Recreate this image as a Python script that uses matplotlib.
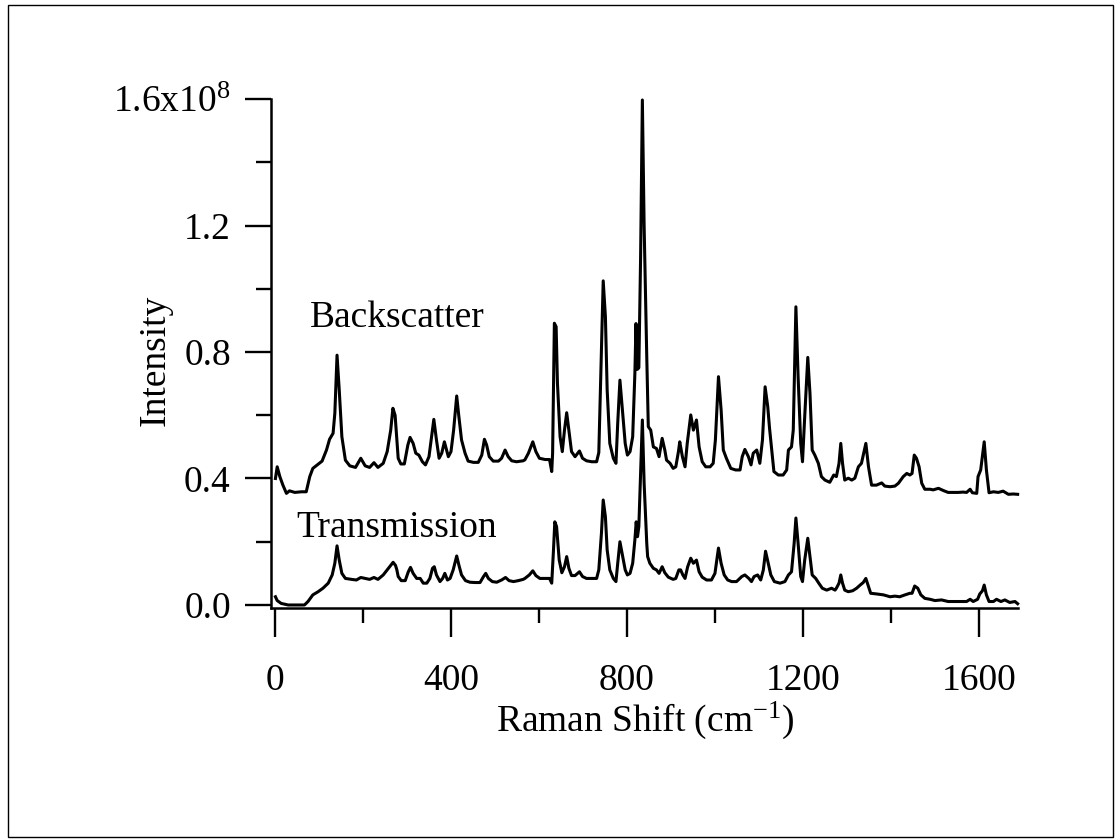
import matplotlib
matplotlib.use('Agg')
import matplotlib.pyplot as plt
from matplotlib.patches import Rectangle
from matplotlib.ticker import MultipleLocator

plt.rcParams['font.family'] = 'Liberation Serif'
plt.rcParams['mathtext.fontset'] = 'custom'
plt.rcParams['mathtext.rm'] = 'Liberation Serif'
plt.rcParams['mathtext.it'] = 'Liberation Serif:italic'

# Raman shift (cm^-1) and intensity (units of 1e8 counts)
back_shift = [1, 5, 11, 18, 26, 33, 45, 60, 71, 79, 86, 98, 107, 117, 124, 132, 136, 141, 146, 152,
              160, 170, 183, 195, 205, 215, 225, 234, 246, 255, 263, 268, 273, 277, 280, 286, 294, 302,
              307, 314, 320, 327, 335, 342, 350, 356, 361, 367, 373, 379, 385, 390, 394, 400, 406, 413,
              418, 424, 432, 439, 451, 462, 470, 476, 481, 487, 496, 508, 515, 523, 530, 538, 549, 564,
              568, 576, 586, 593, 601, 614, 624, 629, 631, 635, 639, 642, 648, 653, 658, 663, 668, 674,
              682, 692, 699, 708, 720, 731, 736, 742, 746, 751, 755, 761, 769, 775, 779, 784, 789, 796,
              801, 807, 813, 818, 820.5, 823.5, 827, 831, 835, 839, 845, 848.5, 854, 860, 867, 873, 880,
              886, 890, 898, 905, 911, 917, 920, 926, 932, 937, 945, 951, 958, 964, 971, 979, 989, 996,
              1001, 1008, 1014, 1019, 1026, 1036, 1047, 1057, 1062, 1068, 1076, 1082, 1087, 1095, 1102,
              1108, 1114, 1120, 1124, 1129, 1134, 1144, 1155, 1163, 1167, 1174, 1178, 1184, 1189, 1195,
              1199, 1204, 1211, 1216, 1221, 1227, 1235, 1242, 1250, 1261, 1270, 1276, 1282, 1286, 1290,
              1295, 1303, 1311, 1318, 1326, 1333, 1343, 1349, 1356, 1367, 1379, 1386, 1398, 1409, 1417,
              1428, 1436, 1443, 1448, 1453, 1458, 1464, 1470, 1477, 1489, 1496, 1508, 1519, 1530, 1542,
              1553, 1564, 1572, 1580, 1585, 1595, 1598, 1604, 1612, 1617, 1623, 1633, 1644, 1655, 1667,
              1678, 1688]
back_int = [0.400, 0.437, 0.406, 0.379, 0.353, 0.361, 0.356, 0.358, 0.358, 0.406, 0.432, 0.445, 0.455,
            0.490, 0.524, 0.543, 0.606, 0.790, 0.680, 0.532, 0.458, 0.440, 0.435, 0.464, 0.440, 0.435,
            0.450, 0.435, 0.448, 0.485, 0.553, 0.622, 0.600, 0.522, 0.464, 0.446, 0.446, 0.506, 0.530,
            0.511, 0.480, 0.474, 0.453, 0.443, 0.469, 0.532, 0.587, 0.522, 0.464, 0.480, 0.516, 0.490,
            0.469, 0.485, 0.553, 0.661, 0.595, 0.522, 0.480, 0.455, 0.451, 0.451, 0.474, 0.524, 0.506,
            0.469, 0.455, 0.455, 0.464, 0.490, 0.469, 0.456, 0.453, 0.456, 0.459, 0.480, 0.516, 0.485,
            0.464, 0.460, 0.460, 0.422, 0.480, 0.891, 0.880, 0.701, 0.532, 0.485, 0.553, 0.608, 0.553,
            0.485, 0.469, 0.487, 0.464, 0.456, 0.453, 0.453, 0.482, 0.806, 1.025, 0.912, 0.680, 0.511,
            0.464, 0.448, 0.575, 0.711, 0.627, 0.511, 0.474, 0.485, 0.532, 0.733, 0.890, 0.745, 0.750,
            1.100, 1.597, 1.200, 0.785, 0.564, 0.553, 0.500, 0.495, 0.469, 0.527, 0.490, 0.458, 0.448,
            0.432, 0.437, 0.485, 0.516, 0.469, 0.437, 0.511, 0.601, 0.553, 0.585, 0.500, 0.453, 0.437,
            0.437, 0.448, 0.522, 0.722, 0.617, 0.490, 0.464, 0.432, 0.427, 0.427, 0.469, 0.492, 0.469,
            0.443, 0.480, 0.490, 0.448, 0.522, 0.690, 0.627, 0.560, 0.490, 0.422, 0.411, 0.411, 0.427,
            0.490, 0.500, 0.553, 0.943, 0.722, 0.511, 0.453, 0.595, 0.783, 0.669, 0.490, 0.474, 0.448,
            0.406, 0.395, 0.388, 0.411, 0.406, 0.448, 0.511, 0.448, 0.395, 0.401, 0.395, 0.401, 0.437,
            0.448, 0.511, 0.437, 0.379, 0.379, 0.386, 0.376, 0.374, 0.376, 0.385, 0.406, 0.416, 0.411,
            0.416, 0.474, 0.464, 0.437, 0.385, 0.366, 0.366, 0.364, 0.369, 0.362, 0.356, 0.356, 0.356,
            0.357, 0.356, 0.366, 0.355, 0.353, 0.406, 0.427, 0.516, 0.427, 0.355, 0.358, 0.356, 0.360,
            0.350, 0.351, 0.350]

trans_shift = [1, 5, 14, 30, 45, 67, 75, 86, 98, 109, 121, 130, 136, 141, 146, 152, 160, 174, 185, 195,
               205, 215, 225, 234, 246, 255, 263, 268.5, 274, 277, 280, 287, 296, 303, 308, 314, 322, 330,
               337, 345, 352, 358, 362, 367, 375, 381, 386, 392, 398, 405, 413, 418, 424, 433, 443, 455,
               466, 474, 479, 485, 494, 504, 515, 524, 532, 542, 553, 564, 568, 578, 586, 593, 602, 614,
               624, 629, 633, 636, 640, 646, 652, 658, 663, 668, 674, 682, 692, 699, 708, 720, 731, 736,
               742, 746, 751, 755, 761, 769, 775, 779, 784, 789, 796, 801, 807, 813, 818, 821, 824, 827,
               831, 835, 839, 845, 847, 852, 860, 867, 873, 880, 886, 894, 905, 911, 918, 922, 927, 932,
               938, 945, 951, 958, 964, 971, 981, 992, 1000, 1008, 1014, 1021, 1029, 1038, 1049, 1061,
               1068, 1077, 1083, 1089, 1097, 1104, 1110, 1115, 1121, 1127, 1135, 1148, 1159, 1167, 1174,
               1180, 1184, 1189, 1195, 1199, 1204, 1211, 1216, 1221, 1229, 1236, 1244, 1254, 1265, 1273,
               1276, 1282, 1286, 1290, 1295, 1303, 1313, 1322, 1330, 1337, 1343, 1348, 1354, 1367, 1383,
               1398, 1409, 1420, 1432, 1443, 1448, 1454, 1461, 1468, 1477, 1489, 1500, 1515, 1530, 1545,
               1561, 1572, 1580, 1587, 1597, 1602, 1608, 1612, 1617, 1623, 1633, 1640, 1650, 1659, 1670,
               1682, 1688]
trans_int = [0.026, 0.014, 0.005, 0.000, 0.000, 0.000, 0.011, 0.032, 0.042, 0.053, 0.069, 0.095, 0.132,
             0.187, 0.142, 0.100, 0.084, 0.081, 0.079, 0.087, 0.084, 0.081, 0.087, 0.081, 0.095, 0.111,
             0.125, 0.135, 0.125, 0.111, 0.090, 0.077, 0.077, 0.105, 0.119, 0.100, 0.084, 0.084, 0.069,
             0.069, 0.084, 0.116, 0.121, 0.095, 0.074, 0.084, 0.100, 0.079, 0.084, 0.111, 0.155, 0.126,
             0.095, 0.077, 0.072, 0.071, 0.071, 0.090, 0.100, 0.084, 0.074, 0.072, 0.079, 0.087, 0.077,
             0.074, 0.077, 0.081, 0.084, 0.095, 0.108, 0.093, 0.084, 0.084, 0.084, 0.069, 0.174, 0.263,
             0.248, 0.142, 0.102, 0.121, 0.153, 0.116, 0.093, 0.093, 0.105, 0.090, 0.084, 0.084, 0.084,
             0.111, 0.227, 0.332, 0.279, 0.174, 0.111, 0.084, 0.074, 0.132, 0.200, 0.163, 0.111, 0.095,
             0.100, 0.132, 0.206, 0.263, 0.216, 0.248, 0.420, 0.585, 0.385, 0.195, 0.153, 0.132, 0.116,
             0.111, 0.100, 0.121, 0.102, 0.088, 0.081, 0.084, 0.111, 0.111, 0.095, 0.084, 0.121, 0.148,
             0.132, 0.142, 0.105, 0.088, 0.079, 0.079, 0.100, 0.180, 0.132, 0.095, 0.079, 0.074, 0.074,
             0.090, 0.095, 0.084, 0.074, 0.090, 0.095, 0.079, 0.111, 0.170, 0.132, 0.095, 0.074, 0.069,
             0.074, 0.095, 0.105, 0.195, 0.275, 0.195, 0.090, 0.074, 0.142, 0.211, 0.153, 0.095, 0.084,
             0.069, 0.053, 0.047, 0.053, 0.047, 0.053, 0.069, 0.095, 0.069, 0.047, 0.042, 0.045, 0.053,
             0.063, 0.071, 0.084, 0.063, 0.037, 0.035, 0.032, 0.026, 0.028, 0.026, 0.032, 0.037, 0.037,
             0.060, 0.053, 0.032, 0.021, 0.018, 0.014, 0.016, 0.011, 0.011, 0.011, 0.011, 0.018, 0.011,
             0.018, 0.035, 0.045, 0.063, 0.032, 0.011, 0.011, 0.018, 0.011, 0.016, 0.008, 0.011, 0.004]

ytick_vals = [0.0, 0.4, 0.8, 1.2, 1.6]
ytick_text = ['0.0', '0.4', '0.8', '1.2', '1.6x10$^{8}$']
xtick_vals = [0, 400, 800, 1200, 1600]

fig = plt.figure(figsize=(11.2, 8.4), dpi=100)
ax = fig.add_axes([0.242, 0.2762, 0.667, 0.6059])

ax.plot(back_shift, back_int, color='black', lw=2.2, clip_on=False)
ax.plot(trans_shift, trans_int, color='black', lw=2.2, clip_on=False)

ax.set_xlim(-9, 1689)
ax.set_ylim(-0.0095, 1.6)

for s in ['top', 'right']:
    ax.spines[s].set_visible(False)
for s in ['left', 'bottom']:
    ax.spines[s].set_linewidth(1.8)

ax.set_xticks(xtick_vals)
ax.set_xticklabels([str(v) for v in xtick_vals])
ax.xaxis.set_minor_locator(MultipleLocator(200))
ax.set_yticks(ytick_vals)
ax.set_yticklabels(ytick_text)
ax.yaxis.set_minor_locator(MultipleLocator(0.2))

ax.tick_params(axis='x', which='major', direction='out', length=21, width=1.7, pad=19, labelsize=27)
ax.tick_params(axis='x', which='minor', direction='out', length=11, width=1.7)
ax.tick_params(axis='y', which='major', direction='out', length=19, width=1.7, pad=10, labelsize=27)
ax.tick_params(axis='y', which='minor', direction='out', length=11, width=1.7)

ax.text(80, 0.879, 'Backscatter', fontsize=27, ha='left', va='baseline')
ax.text(48, 0.215, 'Transmission', fontsize=27, ha='left', va='baseline')

fig.text(155 / 1120, 1 - 360 / 840, 'Intensity', fontsize=27, rotation=90, ha='center', va='center')
fig.text(645 / 1120, 1 - 720 / 840, 'Raman Shift (cm$^{-1}$)', fontsize=27, ha='center', va='center')

# thin border round the whole figure
fig.patches.append(Rectangle((0.007, 0.004), 0.987, 0.99, transform=fig.transFigure,
                             fill=False, ec='black', lw=1.0))

fig.savefig('out.png', dpi=100)
